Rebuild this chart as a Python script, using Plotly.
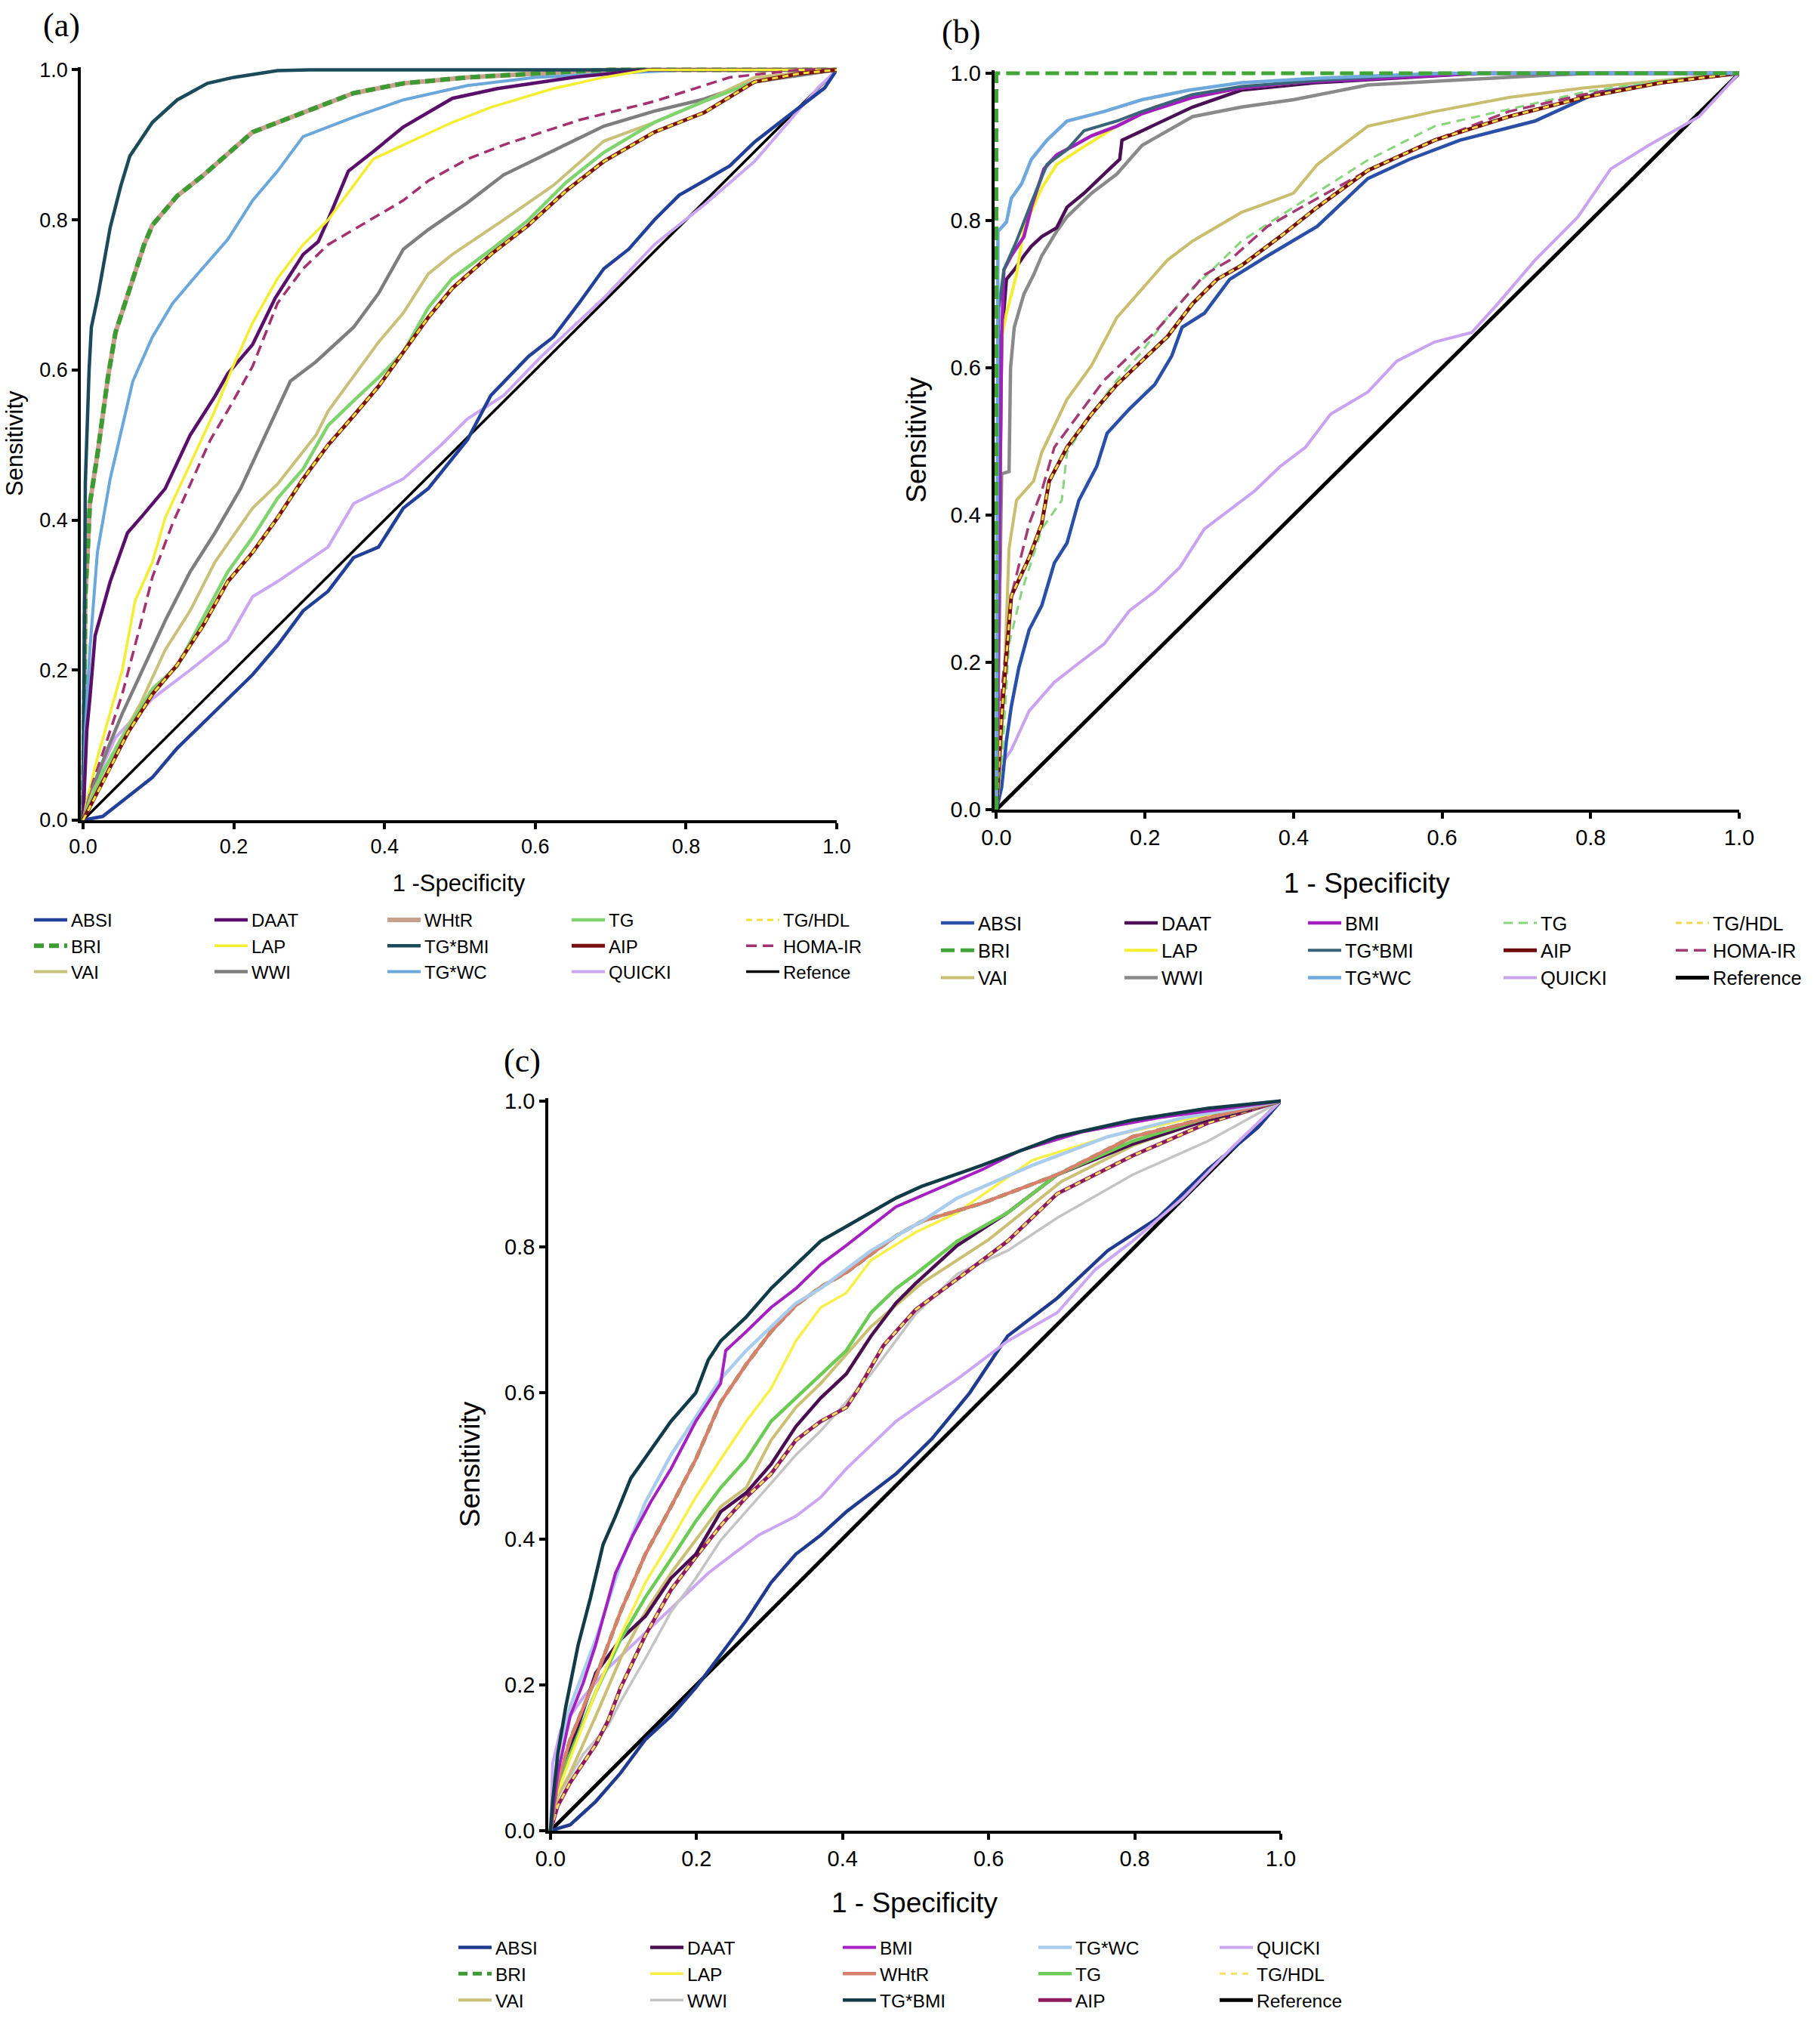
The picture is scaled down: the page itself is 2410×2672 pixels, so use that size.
import plotly.graph_objects as go

# ---------------- data ----------------
REF = [(0, 0), (1, 1)]

# Panel (a)
A_ABSI = [(0, 0), (0.026, 0.005), (0.059, 0.031), (0.092, 0.057), (0.125, 0.096), (0.159, 0.129), (0.192, 0.162),
          (0.225, 0.194), (0.258, 0.233), (0.292, 0.279), (0.325, 0.305), (0.359, 0.35), (0.392, 0.364), (0.425, 0.416),
          (0.458, 0.442), (0.49, 0.481), (0.51, 0.507), (0.541, 0.566), (0.591, 0.618), (0.624, 0.644), (0.658, 0.689),
          (0.691, 0.735), (0.724, 0.761), (0.758, 0.80), (0.791, 0.833), (0.824, 0.852), (0.858, 0.872), (0.891, 0.904),
          (0.924, 0.93), (0.958, 0.956), (0.984, 0.976), (1, 1)]
A_BRI = [(0, 0), (0.003, 0.30), (0.006, 0.357), (0.009, 0.422), (0.019, 0.487), (0.033, 0.59), (0.043, 0.65),
         (0.059, 0.70), (0.081, 0.767), (0.092, 0.793), (0.125, 0.832), (0.159, 0.859), (0.192, 0.888), (0.225, 0.917),
         (0.292, 0.943), (0.359, 0.969), (0.425, 0.982), (0.51, 0.99), (0.6, 0.995), (0.7, 1.0), (1, 1)]
A_VAI = [(0, 0), (0.013, 0.038), (0.043, 0.096), (0.076, 0.155), (0.109, 0.227), (0.142, 0.279), (0.175, 0.344),
         (0.225, 0.416), (0.258, 0.448), (0.309, 0.513), (0.325, 0.545), (0.359, 0.592), (0.392, 0.637), (0.425, 0.676),
         (0.458, 0.728), (0.49, 0.754), (0.558, 0.80), (0.624, 0.846), (0.691, 0.905), (0.758, 0.93), (0.824, 0.958),
         (0.891, 0.99), (1, 1)]
A_DAAT = [(0, 0), (0.005, 0.12), (0.009, 0.162), (0.016, 0.246), (0.036, 0.318), (0.059, 0.383), (0.079, 0.406),
          (0.109, 0.442), (0.142, 0.513), (0.175, 0.565), (0.192, 0.595), (0.225, 0.634), (0.255, 0.696), (0.292, 0.754),
          (0.312, 0.771), (0.325, 0.80), (0.352, 0.865), (0.385, 0.891), (0.425, 0.924), (0.49, 0.962), (0.55, 0.975),
          (0.65, 0.99), (0.75, 1.0), (1, 1)]
A_LAP = [(0, 0), (0.006, 0.03), (0.019, 0.083), (0.036, 0.142), (0.052, 0.20), (0.069, 0.292), (0.092, 0.344),
         (0.109, 0.403), (0.142, 0.474), (0.175, 0.546), (0.199, 0.605), (0.225, 0.663), (0.258, 0.722), (0.292, 0.767),
         (0.325, 0.80), (0.359, 0.846), (0.385, 0.881), (0.425, 0.90), (0.49, 0.93), (0.541, 0.95), (0.624, 0.975),
         (0.691, 0.99), (0.75, 1.0), (1, 1)]
A_WWI = [(0, 0), (0.013, 0.044), (0.033, 0.096), (0.052, 0.142), (0.076, 0.194), (0.109, 0.266), (0.142, 0.331),
         (0.175, 0.383), (0.209, 0.442), (0.242, 0.513), (0.275, 0.585), (0.309, 0.611), (0.359, 0.657), (0.392, 0.702),
         (0.425, 0.761), (0.458, 0.787), (0.51, 0.823), (0.558, 0.86), (0.624, 0.892), (0.691, 0.925), (0.758, 0.945),
         (0.824, 0.961), (0.891, 0.984), (1, 1)]
A_TGBMI = [(0, 0), (0.003, 0.45), (0.008, 0.60), (0.011, 0.657), (0.02, 0.70), (0.036, 0.79), (0.05, 0.845),
           (0.062, 0.885), (0.092, 0.93), (0.125, 0.96), (0.165, 0.982), (0.2, 0.99), (0.258, 0.999), (0.3, 1.0), (1, 1)]
A_TGWC = [(0, 0), (0.003, 0.12), (0.009, 0.227), (0.019, 0.357), (0.036, 0.455), (0.049, 0.513), (0.066, 0.585),
          (0.092, 0.644), (0.119, 0.689), (0.152, 0.728), (0.192, 0.774), (0.225, 0.826), (0.258, 0.865), (0.292, 0.911),
          (0.359, 0.937), (0.425, 0.96), (0.51, 0.979), (0.6, 0.99), (0.7, 0.995), (0.8, 1.0), (1, 1)]
A_TG = [(0, 0), (0.026, 0.064), (0.059, 0.122), (0.092, 0.175), (0.125, 0.205), (0.159, 0.27), (0.192, 0.331),
        (0.225, 0.377), (0.258, 0.429), (0.292, 0.468), (0.325, 0.526), (0.359, 0.559), (0.392, 0.59), (0.425, 0.624),
        (0.458, 0.683), (0.49, 0.722), (0.541, 0.76), (0.591, 0.80), (0.641, 0.85), (0.691, 0.89), (0.758, 0.93),
        (0.824, 0.958), (0.891, 0.984), (0.95, 0.995), (1, 1)]
A_AIP = [(0, 0), (0.026, 0.05), (0.059, 0.116), (0.092, 0.168), (0.125, 0.207), (0.159, 0.259), (0.192, 0.318),
         (0.225, 0.357), (0.258, 0.403), (0.292, 0.455), (0.325, 0.50), (0.359, 0.539), (0.392, 0.578), (0.425, 0.624),
         (0.458, 0.67), (0.49, 0.709), (0.541, 0.754), (0.591, 0.793), (0.641, 0.839), (0.691, 0.878), (0.758, 0.917),
         (0.824, 0.943), (0.891, 0.984), (0.95, 0.995), (1, 1)]
A_QUICKI = [(0, 0), (0.013, 0.044), (0.043, 0.11), (0.092, 0.162), (0.142, 0.20), (0.192, 0.24), (0.225, 0.298),
            (0.258, 0.318), (0.325, 0.364), (0.359, 0.422), (0.425, 0.455), (0.475, 0.50), (0.51, 0.535),
            (0.558, 0.566), (0.608, 0.618), (0.691, 0.696), (0.758, 0.767), (0.824, 0.82), (0.891, 0.878),
            (0.941, 0.937), (0.975, 0.976), (1, 1)]
A_HOMA = [(0, 0), (0.013, 0.05), (0.033, 0.11), (0.052, 0.168), (0.076, 0.26), (0.092, 0.324), (0.119, 0.396),
          (0.142, 0.448), (0.169, 0.507), (0.192, 0.546), (0.225, 0.605), (0.258, 0.689), (0.292, 0.735), (0.325, 0.767),
          (0.359, 0.787), (0.392, 0.807), (0.425, 0.826), (0.458, 0.852), (0.51, 0.881), (0.558, 0.90), (0.658, 0.933),
          (0.758, 0.958), (0.858, 0.99), (0.95, 1.0), (1, 1)]

# Panel (b)
B_ABSI = [(0, 0), (0.007, 0.03), (0.0135, 0.094), (0.02, 0.14), (0.03, 0.192), (0.044, 0.244), (0.061, 0.277),
          (0.078, 0.335), (0.095, 0.362), (0.111, 0.42), (0.135, 0.466), (0.149, 0.511), (0.179, 0.544), (0.213, 0.577),
          (0.236, 0.616), (0.25, 0.655), (0.28, 0.674), (0.314, 0.72), (0.365, 0.752), (0.432, 0.792), (0.5, 0.857),
          (0.556, 0.883), (0.624, 0.909), (0.725, 0.935), (0.81, 0.974), (0.895, 0.987), (1, 1)]
B_BRI = [(0, 0), (0, 1), (1, 1)]
B_VAI = [(0, 0), (0.003, 0.03), (0.01, 0.16), (0.017, 0.355), (0.027, 0.42), (0.05, 0.446), (0.061, 0.485),
         (0.095, 0.557), (0.128, 0.603), (0.162, 0.668), (0.196, 0.707), (0.23, 0.746), (0.264, 0.772), (0.297, 0.792),
         (0.33, 0.811), (0.365, 0.824), (0.4, 0.837), (0.432, 0.876), (0.5, 0.928), (0.59, 0.948), (0.69, 0.967),
         (0.79, 0.98), (0.895, 0.99), (1, 1)]
B_DAAT = [(0, 0), (0.005, 0.5), (0.007, 0.64), (0.0135, 0.72), (0.024, 0.733), (0.037, 0.752), (0.047, 0.765),
          (0.061, 0.778), (0.081, 0.79), (0.095, 0.818), (0.118, 0.837), (0.145, 0.863), (0.166, 0.883), (0.169, 0.909),
          (0.196, 0.922), (0.264, 0.954), (0.33, 0.977), (0.43, 0.987), (0.65, 1.0), (1, 1)]
B_LAP = [(0, 0), (0.005, 0.5), (0.007, 0.64), (0.0135, 0.674), (0.027, 0.726), (0.037, 0.79), (0.061, 0.844),
         (0.081, 0.876), (0.111, 0.896), (0.162, 0.928), (0.213, 0.954), (0.264, 0.967), (0.33, 0.98), (0.43, 0.99),
         (0.6, 1.0), (1, 1)]
B_WWI = [(0, 0), (0.005, 0.3), (0.007, 0.456), (0.017, 0.459), (0.019, 0.60), (0.024, 0.655), (0.037, 0.70),
         (0.05, 0.726), (0.061, 0.752), (0.081, 0.785), (0.095, 0.805), (0.128, 0.837), (0.162, 0.863), (0.196, 0.902),
         (0.264, 0.941), (0.33, 0.954), (0.4, 0.964), (0.5, 0.984), (0.6, 0.99), (0.7, 0.995), (0.8, 1.0), (1, 1)]
B_BMI = [(0, 0), (0.005, 0.5), (0.007, 0.64), (0.01, 0.733), (0.02, 0.752), (0.037, 0.778), (0.047, 0.818),
         (0.064, 0.87), (0.081, 0.889), (0.105, 0.902), (0.128, 0.915), (0.162, 0.928), (0.196, 0.945), (0.264, 0.967),
         (0.33, 0.98), (0.4, 0.987), (0.5, 0.992), (0.65, 1.0), (1, 1)]
B_TGBMI = [(0, 0), (0.003, 0.68), (0.01, 0.733), (0.027, 0.772), (0.047, 0.824), (0.068, 0.876), (0.095, 0.896),
           (0.118, 0.922), (0.162, 0.935), (0.196, 0.948), (0.264, 0.971), (0.33, 0.982), (0.43, 0.99), (0.6, 1.0),
           (1, 1)]
B_TGWC = [(0, 0), (0.001, 0.6), (0.002, 0.785), (0.0135, 0.798), (0.02, 0.83), (0.034, 0.85), (0.047, 0.883),
          (0.068, 0.909), (0.095, 0.935), (0.145, 0.948), (0.196, 0.964), (0.26, 0.977), (0.33, 0.987), (0.43, 0.993),
          (0.6, 1.0), (1, 1)]
B_TG = [(0, 0), (0.007, 0.062), (0.017, 0.225), (0.034, 0.296), (0.061, 0.381), (0.088, 0.42), (0.095, 0.485),
        (0.128, 0.537), (0.162, 0.583), (0.196, 0.622), (0.23, 0.668), (0.264, 0.707), (0.33, 0.772), (0.4, 0.818),
        (0.5, 0.882), (0.59, 0.928), (0.69, 0.951), (0.79, 0.974), (0.895, 0.99), (1, 1)]
B_AIP = [(0, 0), (0.007, 0.127), (0.02, 0.29), (0.044, 0.342), (0.061, 0.388), (0.071, 0.446), (0.095, 0.492),
         (0.128, 0.537), (0.162, 0.577), (0.196, 0.609), (0.23, 0.642), (0.264, 0.687), (0.297, 0.72), (0.33, 0.739),
         (0.382, 0.778), (0.432, 0.818), (0.5, 0.868), (0.59, 0.909), (0.69, 0.941), (0.79, 0.967), (0.895, 0.987),
         (1, 1)]
B_QUICKI = [(0, 0), (0.003, 0.04), (0.007, 0.062), (0.02, 0.081), (0.044, 0.134), (0.078, 0.173), (0.111, 0.199),
            (0.145, 0.225), (0.179, 0.27), (0.213, 0.296), (0.247, 0.329), (0.28, 0.381), (0.314, 0.407),
            (0.348, 0.433), (0.382, 0.466), (0.416, 0.492), (0.45, 0.537), (0.5, 0.567), (0.539, 0.609),
            (0.59, 0.635), (0.64, 0.648), (0.675, 0.687), (0.725, 0.746), (0.783, 0.805), (0.827, 0.87),
            (0.878, 0.902), (0.946, 0.941), (1, 1)]
B_HOMA = [(0, 0), (0.007, 0.16), (0.02, 0.29), (0.044, 0.388), (0.061, 0.433), (0.078, 0.492), (0.111, 0.537),
          (0.145, 0.583), (0.179, 0.616), (0.213, 0.648), (0.247, 0.687), (0.28, 0.726), (0.314, 0.746), (0.365, 0.792),
          (0.432, 0.83), (0.5, 0.868), (0.59, 0.909), (0.69, 0.948), (0.79, 0.971), (0.895, 0.987), (1, 1)]

# Panel (c)
C_ABSI = [(0, 0), (0.027, 0.008), (0.062, 0.04), (0.096, 0.079), (0.13, 0.125), (0.165, 0.157), (0.199, 0.196),
          (0.233, 0.242), (0.268, 0.288), (0.302, 0.34), (0.336, 0.379), (0.37, 0.405), (0.405, 0.437), (0.439, 0.463),
          (0.473, 0.489), (0.5, 0.515), (0.523, 0.538), (0.574, 0.6), (0.626, 0.678), (0.694, 0.73), (0.763, 0.795),
          (0.832, 0.84), (0.9, 0.906), (0.969, 0.964), (1, 1)]
C_BRI = [(0, 0), (0.01, 0.066), (0.027, 0.125), (0.062, 0.21), (0.096, 0.30), (0.13, 0.379), (0.165, 0.444),
         (0.199, 0.509), (0.233, 0.587), (0.268, 0.639), (0.302, 0.684), (0.336, 0.72), (0.37, 0.745), (0.405, 0.765),
         (0.439, 0.79), (0.473, 0.815), (0.508, 0.835), (0.591, 0.86), (0.694, 0.899), (0.797, 0.951), (0.9, 0.977),
         (1, 1)]
C_VAI = [(0, 0), (0.01, 0.047), (0.027, 0.079), (0.062, 0.157), (0.096, 0.236), (0.13, 0.30), (0.165, 0.353),
         (0.199, 0.398), (0.233, 0.444), (0.268, 0.47), (0.302, 0.535), (0.336, 0.58), (0.37, 0.613), (0.439, 0.691),
         (0.508, 0.75), (0.6, 0.81), (0.7, 0.89), (0.8, 0.94), (0.9, 0.975), (1, 1)]
C_DAAT = [(0, 0), (0.01, 0.06), (0.062, 0.216), (0.096, 0.262), (0.13, 0.294), (0.165, 0.346), (0.199, 0.379),
          (0.233, 0.437), (0.268, 0.463), (0.302, 0.502), (0.336, 0.554), (0.37, 0.593), (0.405, 0.626), (0.439, 0.678),
          (0.473, 0.723), (0.5, 0.75), (0.557, 0.802), (0.626, 0.847), (0.694, 0.899), (0.797, 0.941), (0.9, 0.974),
          (1, 1)]
C_LAP = [(0, 0), (0.01, 0.053), (0.027, 0.099), (0.062, 0.19), (0.096, 0.268), (0.13, 0.34), (0.165, 0.398),
         (0.199, 0.457), (0.233, 0.509), (0.268, 0.561), (0.302, 0.606), (0.336, 0.671), (0.37, 0.717), (0.405, 0.737),
         (0.439, 0.782), (0.5, 0.82), (0.557, 0.847), (0.66, 0.919), (0.763, 0.951), (0.866, 0.974), (1, 1)]
C_WWI = [(0, 0), (0.01, 0.047), (0.045, 0.105), (0.079, 0.144), (0.096, 0.177), (0.13, 0.236), (0.165, 0.30),
         (0.199, 0.346), (0.233, 0.398), (0.268, 0.437), (0.302, 0.476), (0.336, 0.515), (0.37, 0.548), (0.439, 0.626),
         (0.5, 0.708), (0.557, 0.763), (0.626, 0.795), (0.694, 0.84), (0.797, 0.899), (0.9, 0.945), (1, 1)]
C_BMI = [(0, 0), (0.01, 0.079), (0.027, 0.157), (0.045, 0.203), (0.062, 0.255), (0.089, 0.353), (0.113, 0.405),
         (0.137, 0.45), (0.165, 0.496), (0.199, 0.561), (0.233, 0.613), (0.24, 0.658), (0.268, 0.684), (0.302, 0.717),
         (0.336, 0.743), (0.37, 0.776), (0.405, 0.802), (0.439, 0.828), (0.473, 0.855), (0.591, 0.906), (0.643, 0.932),
         (0.729, 0.958), (0.832, 0.977), (1, 1)]
C_TGBMI = [(0, 0), (0.003, 0.04), (0.01, 0.105), (0.021, 0.17), (0.038, 0.255), (0.055, 0.32), (0.072, 0.392),
           (0.089, 0.431), (0.11, 0.483), (0.137, 0.522), (0.165, 0.561), (0.199, 0.60), (0.216, 0.645), (0.233, 0.671),
           (0.268, 0.704), (0.302, 0.743), (0.336, 0.776), (0.37, 0.808), (0.405, 0.828), (0.439, 0.847),
           (0.473, 0.867), (0.508, 0.883), (0.591, 0.912), (0.694, 0.951), (0.797, 0.974), (0.9, 0.99), (1, 1)]
C_TGWC = [(0, 0), (0.01, 0.105), (0.027, 0.17), (0.062, 0.262), (0.096, 0.366), (0.13, 0.45), (0.165, 0.515),
          (0.199, 0.567), (0.233, 0.619), (0.268, 0.658), (0.302, 0.691), (0.336, 0.723), (0.37, 0.743), (0.405, 0.769),
          (0.439, 0.795), (0.508, 0.835), (0.557, 0.867), (0.66, 0.912), (0.763, 0.951), (0.866, 0.977), (1, 1)]
C_TG = [(0, 0), (0.01, 0.06), (0.027, 0.105), (0.062, 0.19), (0.096, 0.262), (0.13, 0.32), (0.165, 0.372),
        (0.199, 0.424), (0.233, 0.47), (0.268, 0.509), (0.302, 0.561), (0.336, 0.593), (0.37, 0.626), (0.405, 0.658),
        (0.439, 0.71), (0.473, 0.743), (0.5, 0.763), (0.557, 0.808), (0.626, 0.847), (0.694, 0.899), (0.797, 0.945),
        (0.9, 0.977), (1, 1)]
C_AIP = [(0, 0), (0.01, 0.034), (0.027, 0.066), (0.062, 0.118), (0.079, 0.151), (0.096, 0.196), (0.13, 0.268),
         (0.165, 0.33), (0.199, 0.375), (0.233, 0.418), (0.268, 0.457), (0.302, 0.489), (0.336, 0.535), (0.37, 0.561),
         (0.405, 0.58), (0.422, 0.606), (0.456, 0.665), (0.5, 0.714), (0.557, 0.756), (0.626, 0.808), (0.694, 0.873),
         (0.797, 0.925), (0.9, 0.97), (1, 1)]
C_QUICKI = [(0, 0), (0.003, 0.092), (0.014, 0.138), (0.045, 0.183), (0.079, 0.223), (0.113, 0.255), (0.148, 0.288),
            (0.182, 0.32), (0.216, 0.353), (0.25, 0.379), (0.285, 0.405), (0.336, 0.431), (0.37, 0.457),
            (0.405, 0.496), (0.439, 0.528), (0.473, 0.561), (0.5, 0.58), (0.557, 0.619), (0.626, 0.671),
            (0.694, 0.71), (0.746, 0.769), (0.797, 0.808), (0.866, 0.867), (0.935, 0.938), (1, 1)]

TICKS = [0, 0.2, 0.4, 0.6, 0.8, 1.0]
TICK_TEXT = ["0.0", "0.2", "0.4", "0.6", "0.8", "1.0"]

# ---------------- figure ----------------
W, H = 2410, 2672
SANS = "Arial, Liberation Sans, sans-serif"
SERIF = "Times New Roman, Liberation Serif, serif"


def fx(px):
    return px / W


def fy(py):
    return 1 - py / H


# series: (label, data, color, width, dash, column, row) in drawing order
SERIES_A = [
    ("Refence", REF, "#000000", 3.5, "solid", 5, 3),
    ("QUICKI", A_QUICKI, "#CBA6F2", 4, "solid", 4, 3),
    ("ABSI", A_ABSI, "#22409A", 4.5, "solid", 1, 1),
    ("WHtR", A_BRI, "#C9A08C", 6, "solid", 3, 1),
    ("BRI", A_BRI, "#3E9A32", 6, "13px,7px", 1, 2),
    ("TG*BMI", A_TGBMI, "#1B4A5A", 4.5, "solid", 3, 2),
    ("TG*WC", A_TGWC, "#6AA7DB", 4, "solid", 3, 3),
    ("DAAT", A_DAAT, "#5A0F6B", 4.5, "solid", 2, 1),
    ("LAP", A_LAP, "#F4EE30", 3.5, "solid", 2, 2),
    ("HOMA-IR", A_HOMA, "#A3306F", 3.5, "14px,8px", 5, 2),
    ("WWI", A_WWI, "#7E7E7E", 4.5, "solid", 2, 3),
    ("VAI", A_VAI, "#C9C07A", 4, "solid", 1, 3),
    ("TG", A_TG, "#7FD46E", 4.5, "solid", 4, 1),
    ("AIP", A_AIP, "#7A1010", 5, "solid", 4, 2),
    ("TG/HDL", A_AIP, "#F2E03A", 3, "8px,6px", 5, 1),
]
SERIES_B = [
    ("Reference", REF, "#000000", 5, "solid", 5, 3),
    ("QUICKI", B_QUICKI, "#C9A3F0", 4, "solid", 4, 3),
    ("ABSI", B_ABSI, "#2A4FA8", 4.5, "solid", 1, 1),
    ("VAI", B_VAI, "#C8BE6E", 4, "solid", 1, 3),
    ("TG", B_TG, "#86D67A", 3, "12px,8px", 4, 1),
    ("HOMA-IR", B_HOMA, "#A33A74", 3.5, "16px,8px", 5, 2),
    ("AIP", B_AIP, "#6E0A0A", 5, "solid", 4, 2),
    ("TG/HDL", B_AIP, "#F2D84A", 3, "8px,6px", 5, 1),
    ("WWI", B_WWI, "#8A8A8A", 4.5, "solid", 2, 3),
    ("DAAT", B_DAAT, "#4A0F55", 4.5, "solid", 2, 1),
    ("LAP", B_LAP, "#F4EE30", 4, "solid", 2, 2),
    ("BMI", B_BMI, "#A21FBE", 4.5, "solid", 3, 1),
    ("TG*BMI", B_TGBMI, "#3A6478", 4, "solid", 3, 2),
    ("TG*WC", B_TGWC, "#6FA8DC", 4.5, "solid", 3, 3),
    ("BRI", B_BRI, "#3FA535", 5, "18px,8px", 1, 2),
]
SERIES_C = [
    ("Reference", REF, "#000000", 5, "solid", 5, 3),
    ("ABSI", C_ABSI, "#1F3A8F", 4.5, "solid", 1, 1),
    ("QUICKI", C_QUICKI, "#CBA6F2", 4, "solid", 5, 1),
    ("WWI", C_WWI, "#C4C4C4", 3.5, "solid", 2, 3),
    ("VAI", C_VAI, "#CABF72", 4, "solid", 1, 3),
    ("AIP", C_AIP, "#8E1A5E", 5, "solid", 4, 3),
    ("TG/HDL", C_AIP, "#F4E060", 3, "8px,7px", 5, 2),
    ("DAAT", C_DAAT, "#4A0D50", 4.5, "solid", 2, 1),
    ("TG", C_TG, "#6CCB55", 4.5, "solid", 4, 2),
    ("LAP", C_LAP, "#F8F045", 3.5, "solid", 2, 2),
    ("BRI", C_BRI, "#3E9A32", 5, "12px,7px", 1, 2),
    ("WHtR", C_BRI, "#D9806C", 4.5, "solid", 3, 2),
    ("TG*WC", C_TGWC, "#AACDEE", 4.5, "solid", 4, 1),
    ("BMI", C_BMI, "#A520C0", 4, "solid", 3, 1),
    ("TG*BMI", C_TGBMI, "#123B48", 4.5, "solid", 3, 3),
]

# panel geometry (pixels) and text sizes
PANELS = [
    dict(series=SERIES_A, xa="x", ya="y", xl=107, xr=1108, yt=88.5, yb=1086, tick=27, title=31,
         xtitle="1 -Specificity", xstand=24, ystand=13, label="(a)", lx=55, ly=34,
         leg_text_x=[94, 333, 562, 806, 1037], leg_row1=1218, leg_font=24, legend_base=0),
    dict(series=SERIES_B, xa="x2", ya="y2", xl=1316.5, xr=2303, yt=93, yb=1072, tick=29, title=37,
         xtitle="1 - Specificity", xstand=34, ystand=22, label="(b)", lx=1245, ly=42,
         leg_text_x=[1295, 1538, 1781, 2040, 2268], leg_row1=1221, leg_font=25.5, legend_base=5),
    dict(series=SERIES_C, xa="x3", ya="y3", xl=726, xr=1696, yt=1454, yb=2424, tick=29, title=37,
         xtitle="1 - Specificity", xstand=32, ystand=22, label="(c)", lx=665, ly=1405,
         leg_text_x=[656, 910, 1165, 1424, 1664], leg_row1=2578, leg_font=24.5, legend_base=10),
]

fig = go.Figure()
layout = dict(width=W, height=H, margin=dict(l=0, r=0, t=0, b=0), autosize=False,
              paper_bgcolor="white", plot_bgcolor="white", showlegend=True, annotations=[])

for i, p in enumerate(PANELS):
    for (name, pts, color, width, dash, col, row) in p["series"]:
        leg_idx = p["legend_base"] + col
        leg_id = "legend" if leg_idx == 1 else "legend%d" % leg_idx
        fig.add_trace(go.Scatter(
            x=[q[0] for q in pts], y=[q[1] for q in pts], mode="lines", name=name,
            line=dict(color=color, width=width, dash=dash),
            xaxis=p["xa"], yaxis=p["ya"], legend=leg_id, legendrank=row, hoverinfo="skip"))

    xkey = "xaxis" if p["xa"] == "x" else "xaxis" + p["xa"][1:]
    ykey = "yaxis" if p["ya"] == "y" else "yaxis" + p["ya"][1:]
    common = dict(tickmode="array", tickvals=TICKS, ticktext=TICK_TEXT, showline=True,
                  linecolor="black", linewidth=3.5, ticks="outside", ticklen=8, tickwidth=3.5, tickcolor="black",
                  showgrid=False, zeroline=False, layer="below traces",
                  tickfont=dict(family=SANS, size=p["tick"], color="black"), automargin=False, fixedrange=True)
    xa = dict(common)
    xa.update(domain=[fx(p["xl"]), fx(p["xr"])], range=[-0.003, 1.0], anchor=p["ya"],
              title=dict(text=p["xtitle"], font=dict(family=SANS, size=p["title"], color="black"),
                         standoff=p["xstand"]))
    ya = dict(common)
    ya.update(domain=[fy(p["yb"]), fy(p["yt"])], range=[0, 1.004], anchor=p["xa"],
              title=dict(text="Sensitivity", font=dict(family=SANS, size=p["title"], color="black"),
                         standoff=p["ystand"]))
    layout[xkey] = xa
    layout[ykey] = ya

    layout["annotations"].append(dict(text=p["label"], x=fx(p["lx"]), y=fy(p["ly"]), xref="paper", yref="paper",
                                      xanchor="left", yanchor="middle", showarrow=False,
                                      font=dict(family=SERIF, size=44, color="black")))

    for c in range(5):
        leg_idx = p["legend_base"] + c + 1
        leg_id = "legend" if leg_idx == 1 else "legend%d" % leg_idx
        layout[leg_id] = dict(x=fx(p["leg_text_x"][c] - 54), y=fy(p["leg_row1"] - 22), xanchor="left",
                              yanchor="top", orientation="v", bgcolor="rgba(0,0,0,0)", borderwidth=0,
                              itemwidth=44, tracegroupgap=0, traceorder="normal",
                              font=dict(family=SANS, size=p["leg_font"], color="black"))

fig.update_layout(**layout)
fig.write_html("out.html", config={"displayModeBar": False},
               post_script="document.body.style.margin='0';")
